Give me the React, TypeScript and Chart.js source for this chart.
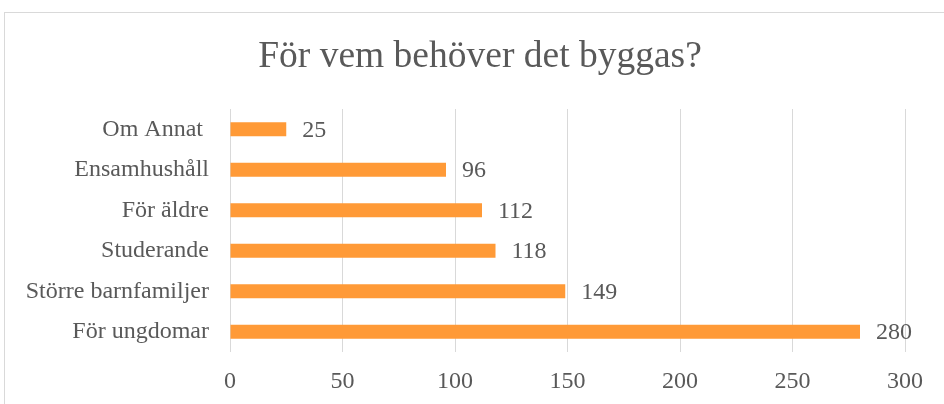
import React, { useEffect, useRef } from "react";
import { Chart, registerables } from "chart.js";

Chart.register(...registerables);

const categories = ["Om Annat ", "Ensamhushåll", "För äldre", "Studerande", "Större barnfamiljer", "För ungdomar"];
const values = [25, 96, 112, 118, 149, 280];
const titleText = "För vem behöver det byggas?";
const xMin = 0;
const xMax = 300;
const xStep = 50;

const FONT = "'Liberation Serif', 'Times New Roman', serif";
const TEXT = "#595959";

const valueLabels = {
  id: "valueLabels",
  afterDatasetsDraw(chart: any) {
    const ctx = chart.ctx;
    const meta = chart.getDatasetMeta(0);
    ctx.save();
    ctx.font = `24px ${FONT}`;
    ctx.fillStyle = TEXT;
    ctx.textAlign = "left";
    ctx.textBaseline = "middle";
    meta.data.forEach((bar: any, i: number) => {
      ctx.fillText(String(values[i]), bar.x + 16, bar.y + 1);
    });
    ctx.restore();
  },
};

const centeredTitle = {
  id: "centeredTitle",
  afterDraw(chart: any) {
    const ctx = chart.ctx;
    ctx.save();
    ctx.font = `37.5px ${FONT}`;
    ctx.fillStyle = TEXT;
    ctx.textAlign = "center";
    ctx.textBaseline = "middle";
    ctx.fillText(titleText, 480, 57.5);
    ctx.restore();
  },
};

export default function App() {
  const ref = useRef<HTMLCanvasElement>(null);
  useEffect(() => {
    if (!ref.current) return;
    const chart = new Chart(ref.current, {
      type: "bar",
      data: {
        labels: categories,
        datasets: [
          {
            data: values,
            backgroundColor: "#FF9A37",
            categoryPercentage: 1,
            barPercentage: 0.35,
          },
        ],
      },
      options: {
        indexAxis: "y",
        animation: false,
        responsive: false,
        maintainAspectRatio: false,
        layout: { padding: { left: 0, right: 39, top: 109, bottom: 0 } },
        plugins: {
          legend: { display: false },
          tooltip: { enabled: false },
          title: { display: false },
        },
        scales: {
          x: {
            min: xMin,
            max: xMax,
            ticks: {
              stepSize: xStep,
              color: TEXT,
              font: { family: FONT, size: 24 },
              padding: 15,
            },
            grid: { color: "#d9d9d9", drawTicks: false, lineWidth: 1 },
            border: { display: false },
            afterFit: (s: any) => {
              s.height = 52;
            },
          },
          y: {
            ticks: {
              color: TEXT,
              font: { family: FONT, size: 24 },
              padding: 21,
            },
            grid: { display: false, drawTicks: false },
            border: { display: false },
            afterFit: (s: any) => {
              s.width = 230;
            },
          },
        },
      },
      plugins: [valueLabels, centeredTitle],
    });
    return () => chart.destroy();
  }, []);
  return (
    <div style={{ position: "fixed", left: 0, top: 0, width: 944, height: 404, background: "#fff", overflow: "hidden" }}>
      <div
        style={{
          position: "absolute",
          left: 4,
          top: 12,
          width: 980,
          height: 440,
          border: "1px solid #d9d9d9",
          boxSizing: "border-box",
        }}
      />
      <canvas ref={ref} width={944} height={404} style={{ position: "absolute", left: 0, top: 0, width: 944, height: 404 }} />
    </div>
  );
}
